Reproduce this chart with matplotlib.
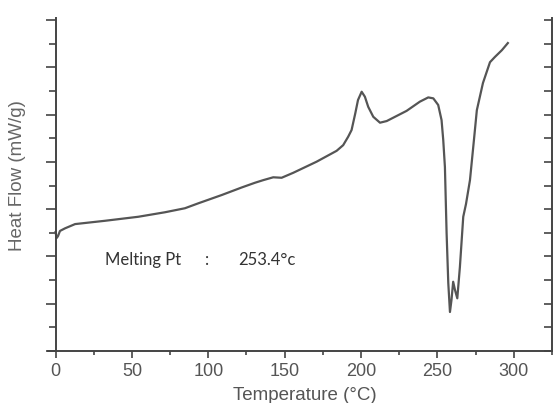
import matplotlib
matplotlib.use("Agg")
import matplotlib.pyplot as plt
from matplotlib.ticker import MultipleLocator

# DSC trace
temperature = [0.0, 0.7, 1.6, 2.9, 6.2, 12.8, 32.4, 54.2, 71.6, 84.7,
               93.5, 108.8, 121.9, 130.6, 136.0, 142.5, 148.0, 155.6, 170.9, 184.0,
               188.3, 191.6, 193.8, 196.2, 198.0, 200.4, 202.5, 204.7, 208.0, 212.4,
               216.8, 229.8, 238.5, 244.0, 247.3, 250.5, 252.7, 253.8, 254.9, 256.0,
               257.1, 258.2, 259.2, 260.3, 261.5, 263.0, 264.7, 266.9, 268.7, 271.3,
               273.9, 275.8, 279.8, 284.4, 287.6, 292.2, 296.1]
heat_flow = [5.03, 4.78, 4.86, 5.08, 5.19, 5.37, 5.51, 5.68, 5.87, 6.04,
             6.25, 6.60, 6.92, 7.12, 7.23, 7.35, 7.33, 7.54, 8.01, 8.47,
             8.71, 9.07, 9.35, 10.05, 10.62, 10.97, 10.76, 10.33, 9.91, 9.66,
             9.73, 10.16, 10.55, 10.73, 10.69, 10.41, 9.77, 8.93, 7.78, 4.99,
             2.88, 1.65, 2.16, 2.93, 2.58, 2.23, 3.55, 5.68, 6.22, 7.23,
             8.93, 10.19, 11.34, 12.22, 12.44, 12.73, 13.03]

x_major = [0, 50, 100, 150, 200, 250, 300]
x_minor = [25, 75, 125, 175, 225, 275, 325]

axis_col = "#444444"
text_col = "#555555"

fig = plt.figure(figsize=(5.53, 4.03), dpi=100)
ax = fig.add_axes([47.6 / 553, 52 / 403, 504.4 / 553, 333 / 403])

ax.plot(temperature, heat_flow, color="#555555", lw=1.6, solid_joinstyle="round")

ax.set_xlim(-5.2, 325)
ax.set_ylim(0, 14.09)

ax.spines["left"].set_position(("data", 0))
for side in ["top", "right"]:
    ax.spines[side].set_visible(False)
for side in ["left", "bottom"]:
    ax.spines[side].set_color(axis_col)
    ax.spines[side].set_linewidth(1.4)

ax.set_xticks(x_major)
ax.set_xticks(x_minor, minor=True)
ax.set_xticklabels([str(v) for v in x_major])
ax.tick_params(axis="x", which="major", direction="out", length=5, width=1.2,
               color=axis_col, labelsize=13, labelcolor=text_col, pad=4)
ax.tick_params(axis="x", which="minor", direction="out", length=3, width=1.2,
               color=axis_col)

ax.yaxis.set_major_locator(MultipleLocator(2))
ax.yaxis.set_minor_locator(MultipleLocator(1))
ax.tick_params(axis="y", which="major", direction="out", length=7, width=1.2,
               color=axis_col, labelleft=False)
ax.tick_params(axis="y", which="minor", direction="out", length=5, width=1.2,
               color=axis_col)

for lbl in ax.get_xticklabels():
    lbl.set_family(["Liberation Sans", "DejaVu Sans"])

# right-hand frame with inward ticks
ax2 = ax.twinx()
ax2.set_ylim(ax.get_ylim())
for side in ["top", "left", "bottom"]:
    ax2.spines[side].set_visible(False)
ax2.spines["right"].set_color(axis_col)
ax2.spines["right"].set_linewidth(1.4)
ax2.yaxis.set_major_locator(MultipleLocator(1))
ax2.tick_params(axis="y", direction="in", length=6, width=1.2, color=axis_col,
                labelright=False)

ax.set_xlabel("Temperature (°C)", fontsize=13.5, color=text_col,
              family=["Liberation Sans", "DejaVu Sans"])
ax.xaxis.set_label_coords(0.51, -0.108)
ax.set_ylabel("Heat Flow (mW/g)", fontsize=13.5, color="#666666",
              family=["Liberation Sans", "DejaVu Sans"])
ax.yaxis.set_label_coords(-0.043, 0.528)

note_kw = dict(fontsize=12, color="#333333", va="center", ha="left",
               family=["Lato", "DejaVu Sans"])
ax.text(32.4, 3.85, "Melting Pt", **note_kw)
ax.text(97.8, 3.85, ":", **note_kw)
ax.text(119.4, 3.85, "253.4°c", **note_kw)

fig.savefig("out.png", dpi=100)
